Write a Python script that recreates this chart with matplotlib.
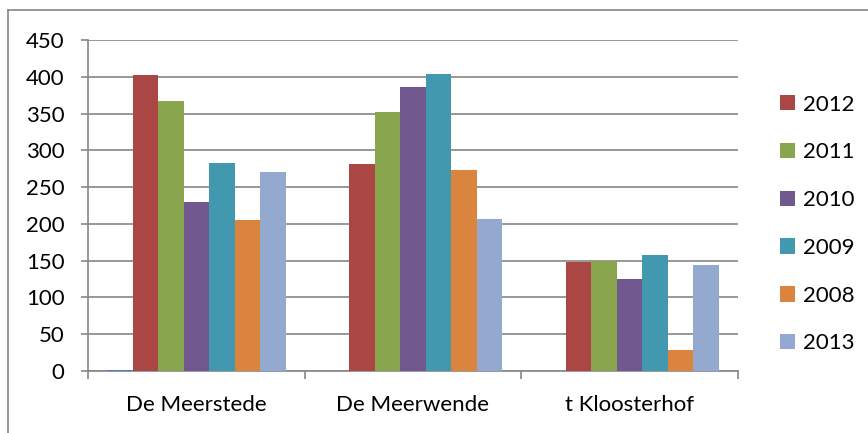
import matplotlib
matplotlib.use("Agg")
import matplotlib.pyplot as plt
import numpy as np
from matplotlib.lines import Line2D

categories = ["De Meerstede", "De Meerwende", "t Kloosterhof"]
series_labels = ["", "2012", "2011", "2010", "2009", "2008", "2013"]
values = {
    "":     [2, 0, 0],
    "2012": [402, 281, 148],
    "2011": [367, 352, 150],
    "2010": [230, 386, 125],
    "2009": [283, 404, 158],
    "2008": [205, 273, 29],
    "2013": [270, 207, 144],
}
colors = ["#4A7EBB", "#AA4643", "#89A54E", "#71588F", "#4198AF", "#DB843D", "#93A9CF"]
yticks = [0, 50, 100, 150, 200, 250, 300, 350, 400, 450]

plt.rcParams['font.family'] = ['Lato', 'DejaVu Sans']
FS = 16
fig = plt.figure(figsize=(8.68, 4.33), dpi=100)
ax = fig.add_axes([88/868, 1-371/433, (738-88)/868, (371-40)/433])

n = len(series_labels)
gap = 1.5
bw = 1.0 / (n + gap)
x = np.arange(len(categories))
handles = []
for i, lab in enumerate(series_labels):
    offs = (i - (n - 1) / 2) * bw
    b = ax.bar(x + offs, values[lab], width=bw, color=colors[i], linewidth=0,
               label=lab if lab else "_nolegend_", zorder=3)
    if lab:
        handles.append(b)

gc = "#868686"
ax.set_xlim(-0.5, len(categories) - 0.5)
ax.set_ylim(0, 450)
ax.set_yticks(yticks)
ax.set_yticklabels([str(v) for v in yticks], fontsize=FS)
ax.yaxis.grid(True, color=gc, linewidth=1.2, zorder=0)
ax.set_axisbelow(True)
ax.set_xticks(x)
ax.set_xticklabels(categories, fontsize=FS)
ax.tick_params(axis='x', length=0, pad=17)
ax.set_xticks(np.arange(len(categories) + 1) - 0.5, minor=True)
ax.tick_params(axis='x', which='minor', length=6, color=gc, width=1.2)
ax.tick_params(axis='y', length=5, color=gc, width=1.2, pad=12)
for s in ['top', 'right']:
    ax.spines[s].set_visible(False)
for s in ['left', 'bottom']:
    ax.spines[s].set_color(gc)
    ax.spines[s].set_linewidth(1.2)

leg = fig.legend(handles=handles, labels=[l for l in series_labels if l],
                 loc='center left', bbox_to_anchor=(760/868, 1-224/433),
                 frameon=False, fontsize=FS, handlelength=0.68, handleheight=0.68,
                 handletextpad=0.35, labelspacing=1.25)

# chart border (top and left visible)
fig.add_artist(Line2D([8/868, 8/868], [0, 1-10/433], color=gc, linewidth=1.2))
fig.add_artist(Line2D([8/868, 1], [1-10/433, 1-10/433], color=gc, linewidth=1.2))

fig.savefig("out.png", dpi=100)
